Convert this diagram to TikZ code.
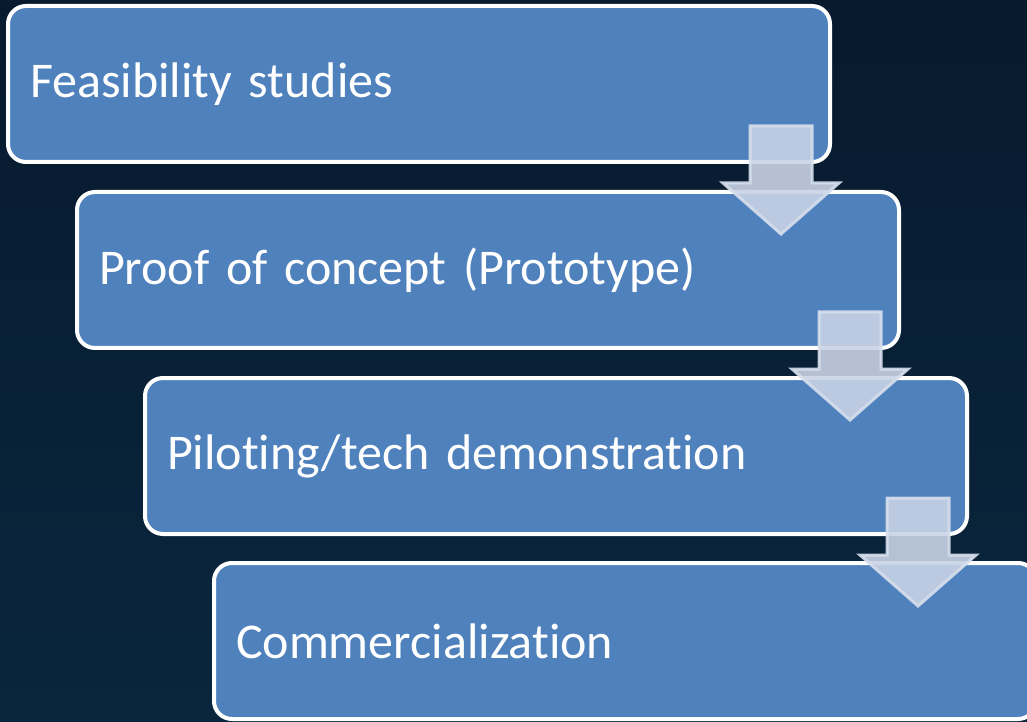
\documentclass[tikz,border=0pt]{standalone}
\usepackage{fontspec}
\setmainfont[Ligatures={NoCommon,NoContextual}]{Carlito}
\usetikzlibrary{calc}

\definecolor{bgtop}{RGB}{8,26,45}
\definecolor{bgbottom}{RGB}{9,38,62}
\definecolor{stagefill}{RGB}{79,129,189}
\definecolor{arrowfill}{RGB}{200,211,229}
\definecolor{arrowedge}{RGB}{214,222,236}

\newcommand{\stagefont}{\fontsize{50}{60}\selectfont\spaceskip=8pt\relax}

\begin{document}
\begin{tikzpicture}[x=1pt, y=1pt,
    stage/.style={rectangle, rounded corners=18pt, draw=white, line width=4pt, fill=stagefill, text=white,
        minimum height=156pt, text width=778pt, inner xsep=22pt, align=left, font=\stagefont},
    flow/.style={fill=arrowfill, fill opacity=0.9, draw=arrowedge, draw opacity=0.9, line width=3pt, line join=miter}
]
\useasboundingbox (0,0) rectangle (1027,721);
\shade[top color=bgtop, bottom color=bgbottom] (0,0) rectangle (1027,721);

% stages
\node[stage] (s1) at (419,637) {Feasibility studies};
\node[stage] (s2) at (488,451) {Proof of concept (Prototype)};
\node[stage] (s3) at (556,265) {Piloting/tech demonstration};
\node[stage] (s4) at (625,80) {Commercialization};

% down arrows from one stage to the next
\foreach \s in {s1,s2,s3} {
  \coordinate (top) at ($(\s.south east)+(-51,38)$);
  \draw[flow] ($(top)+(-31,0)$) -- ($(top)+(31,0)$) -- ($(top)+(31,-57)$) -- ($(top)+(58,-57)$)
    -- ($(top)+(0,-108)$) -- ($(top)+(-58,-57)$) -- ($(top)+(-31,-57)$) -- cycle;
}

\end{tikzpicture}
\end{document}
